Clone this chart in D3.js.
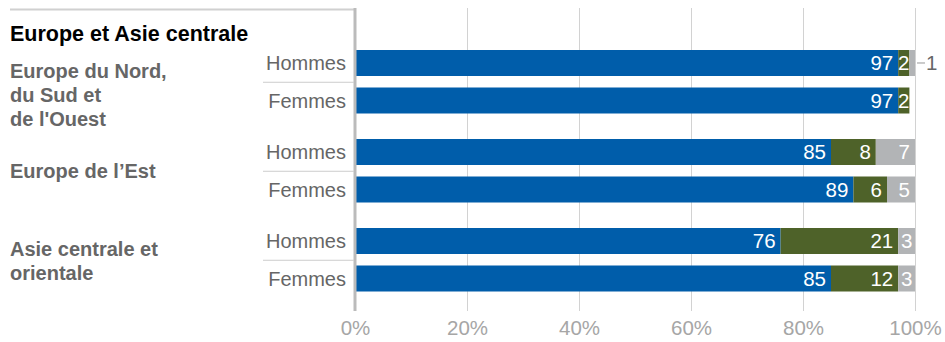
<!DOCTYPE html>
<html>
<head>
<meta charset="utf-8">
<script src="https://cdn.jsdelivr.net/npm/d3@7"></script>
<style>
  html, body { margin: 0; padding: 0; background: #fff; }
  svg { display: block; font-family: "Liberation Sans", Arial, Helvetica, sans-serif; }
</style>
</head>
<body>
<svg id="chart" width="945" height="342"></svg>
<script>
// Regional breakdown, share of men and women (%)
const title = "Europe et Asie centrale";
const groups = ["Europe du Nord, du Sud et de l'Ouest", "Europe de l’Est", "Asie centrale et orientale"];
const groupLines = [["Europe du Nord,", "du Sud et", "de l'Ouest"], ["Europe de l’Est"], ["Asie centrale et", "orientale"]];
const sexes = ["Hommes", "Femmes"];
const seriesKeys = ["a", "b", "c"];
const valuesA = [97, 97, 85, 89, 76, 85];
const valuesB = [2, 2, 8, 6, 21, 12];
const valuesC = [1, 0, 7, 5, 3, 3];
const ticks = [0, 20, 40, 60, 80, 100];

const colors = { a: "#005DAA", b: "#4E6229", c: "#B2B4B6" };

const rows = [];
groups.forEach((g, gi) => sexes.forEach((s, si) => {
  const i = gi * 2 + si;
  rows.push({ group: g, sex: s, a: valuesA[i], b: valuesB[i], c: valuesC[i] });
}));

const svg = d3.select("#chart");
const x = d3.scaleLinear().domain([0, 100]).range([355, 915]);
const y0 = d3.scaleBand().domain(groups).range([44.5, 311.5]);
const y1 = d3.scaleBand().domain(sexes).range([5.5, 69]).paddingInner(0.3067).paddingOuter(0);
const rowY = d => y0(d.group) + y1(d.sex);
const bh = y1.bandwidth();

// top rule
svg.append("line").attr("x1", 10).attr("x2", 355).attr("y1", 9.5).attr("y2", 9.5)
  .attr("stroke", "#d0d0d0").attr("stroke-width", 2);

// gridlines
svg.append("g").selectAll("line").data(ticks.slice(1)).join("line")
  .attr("x1", d => Math.round(x(d)) + 0.5).attr("x2", d => Math.round(x(d)) + 0.5)
  .attr("y1", 8).attr("y2", 311).attr("stroke", "#d2d2d2").attr("stroke-width", 1);

// x axis labels
const xAxis = d3.axisBottom(x).tickValues(ticks).tickFormat(d => d + "%").tickSize(0).tickPadding(0);
const ax = svg.append("g").attr("transform", "translate(0,316)").call(xAxis);
ax.select(".domain").remove();
ax.selectAll("text").attr("font-size", 20.5).attr("fill", "#a6a6a6").attr("dy", "0.95em")
  .attr("font-family", "Liberation Sans, Arial, sans-serif");

// stacked bars
const stack = d3.stack().keys(seriesKeys)(rows);
const layers = svg.append("g").selectAll("g").data(stack).join("g").attr("fill", s => colors[s.key]);
layers.selectAll("rect").data(s => s.map(p => ({ p, key: s.key }))).join("rect")
  .attr("x", d => x(d.p[0])).attr("width", d => x(d.p[1]) - x(d.p[0]))
  .attr("y", d => rowY(d.p.data)).attr("height", bh);

// value labels
const labels = [];
stack.forEach(s => s.forEach(p => {
  const v = p.data[s.key];
  if (v > 0) labels.push({ key: s.key, v, x0: x(p[0]), x1: x(p[1]), row: p.data });
}));
const inside = labels.filter(d => d.x1 - d.x0 >= 10);
svg.append("g").selectAll("text").data(inside).join("text")
  .attr("x", d => (d.x1 - d.x0) < 22 ? (d.x0 + d.x1) / 2 : d.x1 - 5)
  .attr("text-anchor", d => (d.x1 - d.x0) < 22 ? "middle" : "end")
  .attr("y", d => rowY(d.row) + bh / 2).attr("dy", "0.36em")
  .attr("font-size", 20.5).attr("fill", "#fff").text(d => d.v);

const outside = labels.filter(d => d.x1 - d.x0 < 10);
const og = svg.append("g").selectAll("g").data(outside).join("g");
og.append("line").attr("x1", d => d.x1 + 2).attr("x2", d => d.x1 + 10)
  .attr("y1", d => rowY(d.row) + bh / 2).attr("y2", d => rowY(d.row) + bh / 2)
  .attr("stroke", "#999").attr("stroke-width", 1);
og.append("text").attr("x", d => d.x1 + 11).attr("y", d => rowY(d.row) + bh / 2).attr("dy", "0.36em")
  .attr("font-size", 20.5).attr("fill", "#666").text(d => d.v);

// zero axis
svg.append("line").attr("x1", x(0)).attr("x2", x(0)).attr("y1", 8).attr("y2", 311)
  .attr("stroke", "#bbb").attr("stroke-width", 3);

// row labels and separators
svg.append("g").selectAll("text").data(rows).join("text")
  .attr("x", 346).attr("text-anchor", "end")
  .attr("y", d => rowY(d) + bh / 2).attr("dy", "0.36em")
  .attr("font-size", 20).attr("fill", "#666").text(d => d.sex);
svg.append("g").selectAll("line").data(groups).join("line")
  .attr("x1", 263).attr("x2", 354)
  .attr("y1", g => y0(g) + (y1("Hommes") + bh + y1("Femmes")) / 2 + 0.5)
  .attr("y2", g => y0(g) + (y1("Hommes") + bh + y1("Femmes")) / 2 + 0.5)
  .attr("stroke", "#ccc").attr("stroke-width", 1);

// title and group labels
svg.append("text").attr("x", 10).attr("y", 41).attr("font-size", 21.5).attr("font-weight", "bold")
  .attr("fill", "#000").text(title);
groups.forEach((g, gi) => {
  const lines = groupLines[gi];
  const top = y0(g) + y1("Hommes");
  const center = top + (y1("Femmes") + bh - y1("Hommes")) / 2;
  const first = lines.length === 1 ? center : top + 21;
  svg.append("text").attr("font-size", 20).attr("font-weight", "bold").attr("fill", "#666")
    .selectAll("tspan").data(lines).join("tspan")
    .attr("x", 10).attr("y", (d, i) => first + i * 24).attr("dy", "0.36em").text(d => d);
});
</script>
</body>
</html>
